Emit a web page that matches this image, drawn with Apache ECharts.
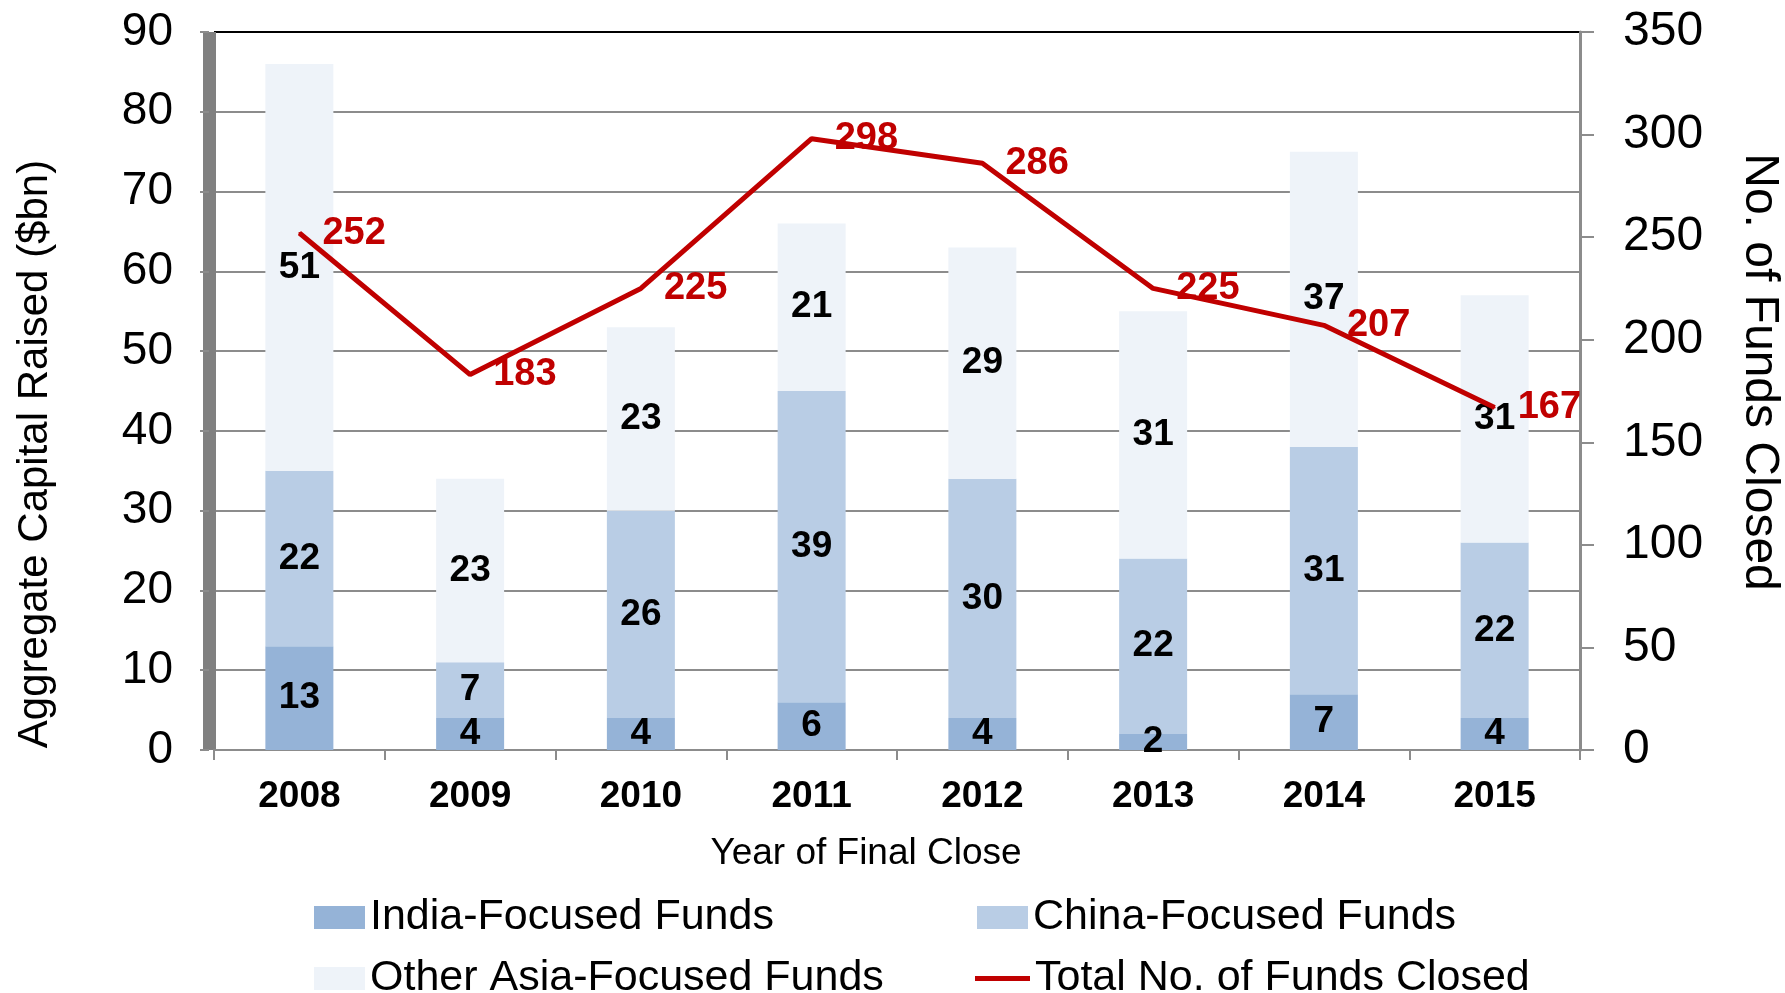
<!DOCTYPE html>
<html>
<head>
<meta charset="utf-8">
<script src="https://cdn.jsdelivr.net/npm/echarts@6/dist/echarts.min.js"></script>
<style>
html,body{margin:0;padding:0;background:#fff;}
#chart{width:1785px;height:993px;}
</style>
</head>
<body>
<div id="chart"></div>
<script>
const years = ['2008','2009','2010','2011','2012','2013','2014','2015'];
const indiaFunds = [13, 4, 4, 6, 4, 2, 7, 4];
const chinaFunds = [22, 7, 26, 39, 30, 22, 31, 22];
const otherAsiaFunds = [51, 23, 23, 21, 29, 31, 37, 31];
const totalFundsClosed = [252, 183, 225, 298, 286, 225, 207, 167];
const seriesNames = ['India-Focused Funds','China-Focused Funds','Other Asia-Focused Funds','Total No. of Funds Closed'];

const FONT = '"Liberation Sans", Arial, sans-serif';
const chart = echarts.init(document.getElementById('chart'), null, {renderer:'canvas'});

const barLabel = {show:true, position:'inside', color:'#000', fontWeight:'bold', fontSize:37, fontFamily:FONT};
const splitColors = ['#8c8c8c','#8c8c8c','#8c8c8c','#8c8c8c','#8c8c8c','#8c8c8c','#8c8c8c','#8c8c8c','#8c8c8c','#000000'];
const legendText = {fontSize:43, color:'#000', fontFamily:FONT};
function legendItem(name, left, top, extra) {
  return Object.assign({orient:'horizontal', left:left, top:top, itemWidth:51, itemHeight:23,
    textStyle:legendText, data:[{name:name, icon:'rect'}]}, extra || {});
}

chart.setOption({
  animation:false,
  backgroundColor:'#fff',
  textStyle:{fontFamily:FONT},
  grid:{left:214, right:205, top:32, bottom:243, containLabel:false, outerBoundsMode:'none'},
  legend:[
    legendItem(seriesNames[0], 309, 891),
    legendItem(seriesNames[1], 972, 891),
    legendItem(seriesNames[2], 309, 952),
    legendItem(seriesNames[3], 970, 952, {data:[{name:seriesNames[3], icon:'rect', itemStyle:{color:'#C00000'}}], itemWidth:55, itemHeight:5})
  ],
  xAxis:{
    type:'category', data:years,
    name:'Year of Final Close', nameLocation:'middle', nameGap:85,
    nameTextStyle:{fontSize:37, color:'#000', fontFamily:FONT, padding:[0,62,0,0]},
    axisLine:{lineStyle:{color:'#8c8c8c', width:2}},
    axisTick:{show:true, length:10, lineStyle:{color:'#8c8c8c', width:2}},
    axisLabel:{fontSize:37, fontWeight:'bold', color:'#000', margin:28, fontFamily:FONT}
  },
  yAxis:[
    {type:'value', min:0, max:90, interval:10, offset:5,
     name:'Aggregate Capital Raised ($bn)', nameLocation:'middle', nameGap:153, nameRotate:90,
     nameTextStyle:{fontSize:42, color:'#000', fontFamily:FONT, padding:[0,126,0,0]},
     axisLine:{show:true, lineStyle:{color:'#808080', width:13, cap:'butt'}},
     axisTick:{show:true, length:9, lineStyle:{color:'#8c8c8c', width:2}},
     axisLabel:{fontSize:46, color:'#000', margin:36, fontFamily:FONT},
     splitLine:{show:true, lineStyle:{color:splitColors, width:2}}
    },
    {type:'value', min:0, max:350, interval:50, position:'right',
     name:'No. of Funds Closed', nameLocation:'middle', nameGap:155, nameRotate:-90,
     nameTextStyle:{fontSize:48, color:'#000', fontFamily:FONT, padding:[0,38,0,0]},
     axisLine:{show:true, lineStyle:{color:'#8c8c8c', width:3}},
     axisTick:{show:true, length:14, lineStyle:{color:'#8c8c8c', width:2}},
     axisLabel:{fontSize:48, color:'#000', margin:43, fontFamily:FONT},
     splitLine:{show:false}
    }
  ],
  series:[
    {name:seriesNames[0], type:'bar', stack:'capital', data:indiaFunds, barWidth:68,
     itemStyle:{color:'#95B3D7'}, label:barLabel},
    {name:seriesNames[1], type:'bar', stack:'capital', data:chinaFunds, barWidth:68,
     itemStyle:{color:'#B9CDE5'}, label:barLabel},
    {name:seriesNames[2], type:'bar', stack:'capital', data:otherAsiaFunds, barWidth:68,
     itemStyle:{color:'#EEF3F9'}, label:barLabel},
    {name:seriesNames[3], type:'line', yAxisIndex:1, data:totalFundsClosed,
     symbol:'circle', symbolSize:2, showSymbol:true,
     lineStyle:{color:'#C00000', width:5}, itemStyle:{color:'#C00000'},
     label:{show:true, position:'right', distance:22, color:'#C00000', fontWeight:'bold', fontSize:38, fontFamily:FONT},
     z:5}
  ]
});
</script>
</body>
</html>
